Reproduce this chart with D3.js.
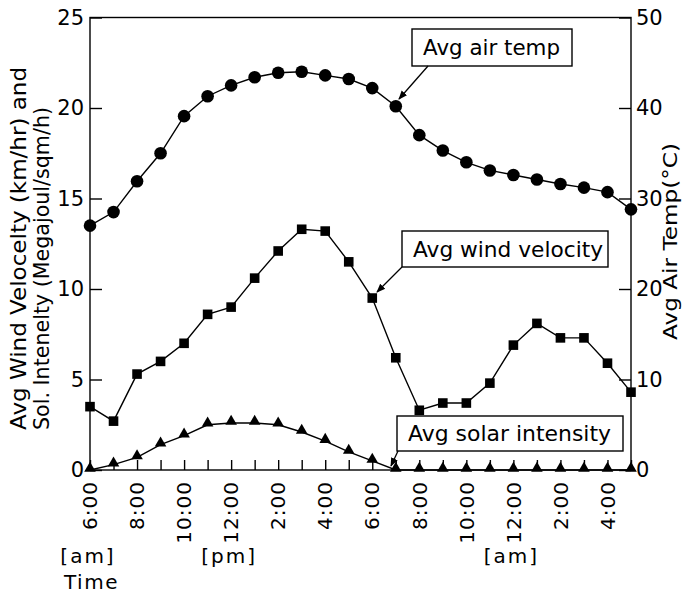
<!DOCTYPE html>
<html>
<head>
<meta charset="utf-8">
<script src="https://cdn.jsdelivr.net/npm/d3@7"></script>
<style>
  html, body { margin: 0; padding: 0; background: #fff; }
  svg { display: block; }
  text { font-family: 'DejaVu Sans', sans-serif; fill: #000; }
</style>
</head>
<body>
<svg id="chart"></svg>
<script>
// 時間 (6:00 am → 5:00 am)
const hours = ['6:00', '7:00', '8:00', '9:00', '10:00', '11:00', '12:00', '1:00', '2:00', '3:00', '4:00', '5:00',
  '6:00', '7:00', '8:00', '9:00', '10:00', '11:00', '12:00', '1:00', '2:00', '3:00', '4:00', '5:00']
const airTemp = [27.0, 28.5, 31.9, 35.0, 39.1, 41.3, 42.5, 43.4, 43.9, 44.0, 43.6, 43.2,
  42.2, 40.2, 37.0, 35.3, 34.0, 33.1, 32.6, 32.1, 31.6, 31.2, 30.7, 28.8]
const windVelocity = [3.5, 2.7, 5.3, 6.0, 7.0, 8.6, 9.0, 10.6, 12.1, 13.3, 13.2, 11.5,
  9.5, 6.2, 3.3, 3.7, 3.7, 4.8, 6.9, 8.1, 7.3, 7.3, 5.9, 4.3]
const solarIntensity = [0, 0.3, 0.7, 1.4, 1.9, 2.5, 2.6, 2.6, 2.5, 2.1, 1.6, 1.0,
  0.5, 0, 0, 0, 0, 0, 0, 0, 0, 0, 0, 0]
const leftTicks = [0, 5, 10, 15, 20, 25]
const rightTicks = [0, 10, 20, 30, 40, 50]
const periodLabels = ['[am]', '[pm]', '[am]']
const periodAt = [0, 6, 18]

const width = 683
const height = 596
const svg = d3.select('#chart').attr('width', width).attr('height', height)

const x = d3.scaleLinear().domain([0, hours.length - 1]).range([90, 631])
const yLeft = d3.scaleLinear().domain([0, 25]).range([470, 17.5])
const yRight = d3.scaleLinear().domain([0, 50]).range([470, 17.5])

// arrow head
svg.append('defs').append('marker')
  .attr('id', 'arrow')
  .attr('viewBox', '0 0 10 10')
  .attr('refX', 9).attr('refY', 5)
  .attr('markerWidth', 9).attr('markerHeight', 9)
  .attr('markerUnits', 'userSpaceOnUse')
  .attr('orient', 'auto')
  .append('path')
  .attr('d', 'M0,1 L10,5 L0,9 Z')
  .attr('fill', '#000')

// 線
function drawLine(values, y) {
  svg.append('path')
    .datum(values)
    .attr('fill', 'none')
    .attr('stroke', '#000')
    .attr('stroke-width', 1.4)
    .attr('d', d3.line().x((d, i) => x(i)).y(d => y(d)))
}
drawLine(airTemp, yRight)
drawLine(windVelocity, yLeft)
drawLine(solarIntensity, yLeft)

svg.selectAll('.temp').data(airTemp).enter().append('circle')
  .attr('cx', (d, i) => x(i)).attr('cy', d => yRight(d))
  .attr('r', 6.3).attr('fill', '#000')

svg.selectAll('.wind').data(windVelocity).enter().append('rect')
  .attr('x', (d, i) => x(i) - 4.8).attr('y', d => yLeft(d) - 4.8)
  .attr('width', 9.6).attr('height', 9.6).attr('fill', '#000')

const tri = d3.symbol().type(d3.symbolTriangle).size(58)
svg.selectAll('.solar').data(solarIntensity).enter().append('path')
  .attr('d', tri)
  .attr('transform', (d, i) => `translate(${x(i)},${yLeft(d) - 1.5})`)
  .attr('fill', '#000')

// 外框
svg.append('rect')
  .attr('x', x(0)).attr('y', yLeft(25))
  .attr('width', x(23) - x(0)).attr('height', yLeft(0) - yLeft(25))
  .attr('fill', 'none').attr('stroke', '#000').attr('stroke-width', 1.4)

// axes
const leftAxis = d3.axisLeft(yLeft).tickValues(leftTicks).tickSize(-12).tickPadding(17)
const gl = svg.append('g').attr('transform', `translate(${x(0)},0)`).call(leftAxis)
const rightAxis = d3.axisRight(yRight).tickValues(rightTicks).tickSize(-12).tickPadding(17)
const gr = svg.append('g').attr('transform', `translate(${x(23)},0)`).call(rightAxis)
const bottomAxis = d3.axisBottom(x).tickValues(d3.range(hours.length)).tickSize(-10).tickFormat('')
const gb = svg.append('g').attr('transform', `translate(0,${yLeft(0)})`).call(bottomAxis)

for (const g of [gl, gr, gb]) {
  g.select('.domain').remove()
  g.selectAll('.tick line').attr('stroke', '#000').attr('stroke-width', 1.4)
  g.selectAll('text').style('font-family', 'DejaVu Sans').attr('font-size', 21).attr('fill', '#000')
}
gl.selectAll('text').attr('x', -6)
gr.selectAll('text').attr('x', 5)

// x tick labels (rotated)
svg.selectAll('.hlabel').data(hours.filter((d, i) => i % 2 === 0)).enter().append('text')
  .attr('transform', (d, i) => `translate(${x(i * 2)},481) rotate(-90)`)
  .attr('text-anchor', 'end')
  .attr('dy', '0.36em')
  .attr('font-size', 20)
  .attr('letter-spacing', 1)
  .text(d => d)

svg.selectAll('.plabel').data(periodLabels).enter().append('text')
  .attr('x', (d, i) => x(periodAt[i]) - 2)
  .attr('y', 563)
  .attr('text-anchor', 'middle')
  .attr('font-size', 20)
  .attr('letter-spacing', 2)
  .text(d => d)

svg.append('text').attr('x', 64).attr('y', 589)
  .attr('font-size', 20).attr('letter-spacing', 1.5).text('Time')

// axis titles
svg.append('text')
  .attr('transform', 'translate(26,430) rotate(-90)')
  .attr('font-size', 21)
  .attr('textLength', 363).attr('lengthAdjust', 'spacingAndGlyphs')
  .text('Avg Wind Velocelty (km/hr) and')
svg.append('text')
  .attr('transform', 'translate(49,430) rotate(-90)')
  .attr('font-size', 21)
  .attr('textLength', 323).attr('lengthAdjust', 'spacingAndGlyphs')
  .text('Sol. Intenelty (Megajoul/sqm/h)')
svg.append('text')
  .attr('transform', 'translate(677,340) rotate(-90)')
  .attr('font-size', 20)
  .attr('textLength', 197).attr('lengthAdjust', 'spacingAndGlyphs')
  .text('Avg Air Temp(°C)')

// 標註
function callout(label, bx, by, bw, bh, tl, arrow) {
  svg.append('rect')
    .attr('x', bx).attr('y', by).attr('width', bw).attr('height', bh)
    .attr('fill', '#fff').attr('stroke', '#000').attr('stroke-width', 1.4)
  svg.append('text')
    .attr('x', bx + 11).attr('y', by + bh / 2)
    .attr('dy', '0.36em')
    .attr('font-size', 21)
    .attr('textLength', tl).attr('lengthAdjust', 'spacingAndGlyphs')
    .text(label)
  svg.append('line')
    .attr('x1', arrow[0]).attr('y1', arrow[1]).attr('x2', arrow[2]).attr('y2', arrow[3])
    .attr('stroke', '#000').attr('stroke-width', 1.3)
    .attr('marker-end', 'url(#arrow)')
}
callout('Avg air temp', 412, 29, 160, 37, 137, [428, 66, 399, 99])
callout('Avg wind velocity', 402, 231, 206, 36, 190, [402, 267, 377, 292])
callout('Avg solar intensity', 397, 416, 226, 35, 203, [398, 451, 391, 466])
</script>
</body>
</html>
